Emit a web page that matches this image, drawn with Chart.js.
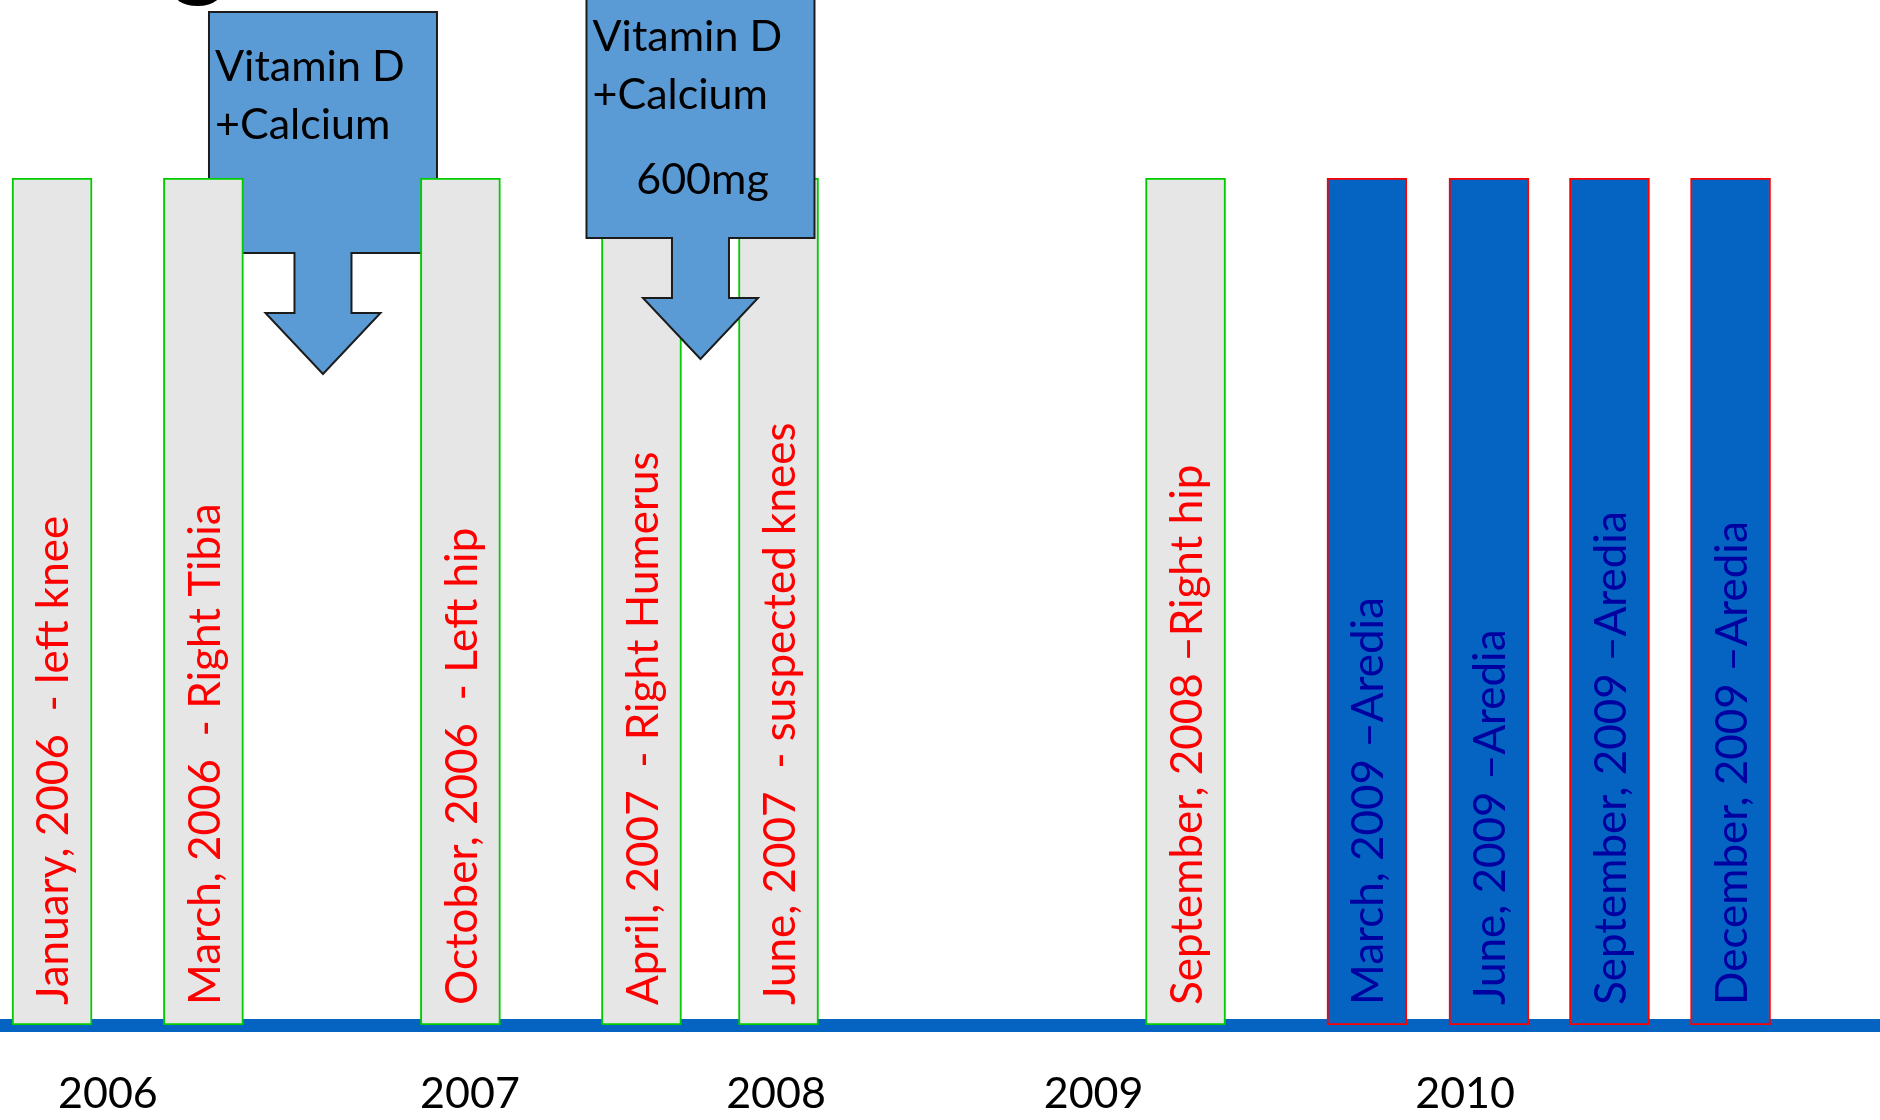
<!DOCTYPE html>
<html lang="en">
<head>
  <meta charset="UTF-8" />
  <title>timeline</title>
  <script src="https://cdn.jsdelivr.net/npm/chart.js"></script>
  <style>
    html, body { margin: 0; padding: 0; background: #fff; }
    .wrap { width: 1880px; height: 1120px; }
  </style>
</head>
<body>
  <div class="wrap"><canvas id="timeline"></canvas></div>

  <script>
    // positions are on a 0-100 scale running across the slide
    const fractureLabels = [
      'January, 2006  - left knee',
      'March, 2006  - Right Tibia',
      'October, 2006  - Left hip',
      'April, 2007  - Right Humerus',
      'June, 2007  - suspected knees',
      'September, 2008 \u2013Right hip'
    ];
    const fracturePos = [2.77, 10.82, 24.49, 34.12, 41.41, 63.06];
    const fractureHeight = [1, 1, 1, 1, 1, 1];

    const arediaLabels = [
      'March, 2009 \u2013Aredia',
      'June, 2009 \u2013Aredia',
      'September, 2009 \u2013Aredia',
      'December, 2009 \u2013Aredia'
    ];
    const arediaPos = [72.71, 79.2, 85.61, 92.05];
    const arediaHeight = [1, 1, 1, 1];

    const yearLabels = ['2006', '2007', '2008', '2009', '2010'];
    const yearPos = [5.74, 25.0, 41.28, 58.17, 77.93];

    const calloutText = [['Vitamin D', '+Calcium'], ['Vitamin D', '+Calcium', '600mg']];
    const calloutPos = [17.18, 37.26];

    // callout shapes, in the y scale's units (1 = top of the bars)
    const calloutShape = [
      { top: 1.196, bottom: 0.9115, stemEnd: 0.8406, tip: 0.7686 },
      { top: 1.2314, bottom: 0.9292, stemEnd: 0.8583, tip: 0.7863 }
    ];

    const FONT = 'Lato, "Open Sans", sans-serif';
    const FONT_SIZE = 43;
    const BAR_FONT_SIZE = 44;

    function drawCallout(chart, i) {
      const { ctx, scales: { x, y } } = chart;
      const s = calloutShape[i];
      const cx = x.getPixelForValue(calloutPos[i]);
      const left = cx - 114, right = cx + 114;
      const top = y.getPixelForValue(s.top);
      const bottom = y.getPixelForValue(s.bottom);
      const stemEnd = y.getPixelForValue(s.stemEnd);
      const tip = y.getPixelForValue(s.tip);
      const stem = 28.5, head = 57.5;

      ctx.save();
      ctx.beginPath();
      ctx.moveTo(left, top);
      ctx.lineTo(right, top);
      ctx.lineTo(right, bottom);
      ctx.lineTo(cx + stem, bottom);
      ctx.lineTo(cx + stem, stemEnd);
      ctx.lineTo(cx + head, stemEnd);
      ctx.lineTo(cx, tip);
      ctx.lineTo(cx - head, stemEnd);
      ctx.lineTo(cx - stem, stemEnd);
      ctx.lineTo(cx - stem, bottom);
      ctx.lineTo(left, bottom);
      ctx.closePath();
      ctx.fillStyle = '#5B9BD5';
      ctx.fill();
      ctx.lineWidth = 2;
      ctx.strokeStyle = '#1c1c1c';
      ctx.stroke();

      ctx.fillStyle = '#000';
      ctx.font = FONT_SIZE + 'px ' + FONT;
      ctx.textBaseline = 'alphabetic';
      calloutText[i].forEach((t, k) => {
        if (k < 2) {
          ctx.textAlign = 'left';
          ctx.fillText(t, left + 6, top + 69 + k * 58);
        } else {
          ctx.textAlign = 'center';
          ctx.fillText(t, cx + 2, top + 212);
        }
      });
      ctx.restore();
    }

    const slidePlugin = {
      id: 'slide',
      beforeDatasetsDraw(chart) {
        const ctx = chart.ctx;
        // bottom of the cut-off slide title
        ctx.save();
        ctx.fillStyle = '#000';
        ctx.font = '110px ' + FONT;
        ctx.textAlign = 'left';
        ctx.textBaseline = 'alphabetic';
        ctx.fillText('g', 170, -14);
        ctx.restore();
        drawCallout(chart, 0);
      },
      afterDatasetsDraw(chart) {
        const ctx = chart.ctx;
        chart.data.datasets.forEach((ds, di) => {
          chart.getDatasetMeta(di).data.forEach((bar, j) => {
            ctx.save();
            ctx.translate(bar.x + 2, bar.base - 20);
            ctx.rotate(-Math.PI / 2);
            ctx.textAlign = 'left';
            ctx.textBaseline = 'middle';
            ctx.fillStyle = ds.textColor;
            ctx.font = BAR_FONT_SIZE + 'px ' + FONT;
            ctx.fillText(ds.eventLabels[j], 0, 0);
            ctx.restore();
          });
        });
        drawCallout(chart, 1);
      }
    };

    new Chart(document.getElementById('timeline'), {
      type: 'bar',
      data: {
        datasets: [{
          label: 'Fractures',
          data: fracturePos.map((p, i) => ({ x: p, y: fractureHeight[i] })),
          eventLabels: fractureLabels,
          textColor: '#FF0000',
          backgroundColor: '#E6E6E6',
          borderColor: '#00CC00',
          borderWidth: 2,
          borderSkipped: false,
          barThickness: 80,
          grouped: false
        }, {
          label: 'Aredia',
          data: arediaPos.map((p, i) => ({ x: p, y: arediaHeight[i] })),
          eventLabels: arediaLabels,
          textColor: '#0000A0',
          backgroundColor: '#0563C1',
          borderColor: '#FF0000',
          borderWidth: 2,
          borderSkipped: false,
          barThickness: 80,
          grouped: false
        }]
      },
      options: {
        responsive: true,
        maintainAspectRatio: false,
        animation: false,
        layout: { padding: { top: 178, left: 0, right: 0, bottom: 0 } },
        plugins: {
          legend: { display: false },
          tooltip: { enabled: false }
        },
        scales: {
          x: {
            type: 'linear',
            min: 0,
            max: 100,
            offset: false,
            grid: { display: false, drawTicks: false },
            border: { display: true, color: '#0563C1', width: 13 },
            afterBuildTicks: (scale) => {
              scale.ticks = yearPos.map((v) => ({ value: v }));
            },
            afterFit: (scale) => { scale.height = 95; },
            ticks: {
              autoSkip: false,
              maxRotation: 0,
              padding: 43,
              color: '#000',
              font: { family: FONT, size: FONT_SIZE },
              callback: (v, i) => yearLabels[i]
            }
          },
          y: { display: false, min: 0, max: 1 }
        }
      },
      plugins: [slidePlugin]
    });
  </script>
</body>
</html>
